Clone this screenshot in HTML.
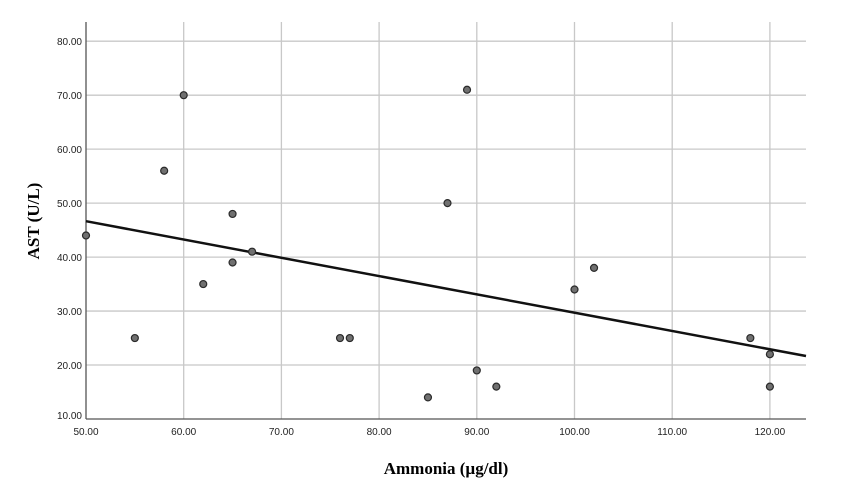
<!DOCTYPE html>
<html><head><meta charset="utf-8"><style>
body{margin:0;background:#fff;}
svg text{font-family:"Liberation Sans",Arial,sans-serif;}
</style></head><body>
<svg id="chart" width="842" height="494" xmlns="http://www.w3.org/2000/svg">
<g id="grid"></g><g id="axes"></g><g id="pts"></g>
<text transform="translate(39,221) rotate(-90)" text-anchor="middle" font-family="Liberation Serif" font-weight="bold" font-size="17" style="font-family:'Liberation Serif',serif">AST (U/L)</text>
<text x="446" y="474" text-anchor="middle" font-weight="bold" font-size="17" style="font-family:'Liberation Serif',serif">Ammonia (µg/dl)</text>
</svg>
<script>
const xTicks=[50,60,70,80,90,100,110,120];
const yTicks=[10,20,30,40,50,60,70,80];
const ammonia=[50,55,58,60,62,65,65,67,76,77,85,87,89,90,92,100,102,118,120,120];
const ast=[44,25,56,70,35,48,39,41,25,25,14,50,71,19,16,34,38,25,22,16];
const fitIntercept=[63.6];
const fitSlope=[-0.339];
const X0=86,X1=806,Y0=419,Ytop=22;
const xs=v=>86+(v-50)*9.77;
const ys=v=>419-(v-10)*5.397;
const NS="http://www.w3.org/2000/svg";
function mk(p,t,a){const e=document.createElementNS(NS,t);for(const k in a)e.setAttribute(k,a[k]);p.appendChild(e);return e;}
const g=document.getElementById('grid'),ax=document.getElementById('axes'),pts=document.getElementById('pts');
xTicks.forEach(v=>{if(v>50){const l=mk(g,'line',{x1:xs(v),x2:xs(v),y1:Ytop,y2:Y0,stroke:'#c8c8c8','stroke-width':1.3});

}
const t=mk(ax,'text',{x:xs(v),y:Y0+16,'text-anchor':'middle','font-size':10,fill:'#222'});t.textContent=v.toFixed(2);

});
yTicks.forEach(v=>{if(v>10){const l=mk(g,'line',{x1:X0,x2:X1,y1:ys(v),y2:ys(v),stroke:'#c8c8c8','stroke-width':1.3});

}
const t=mk(ax,'text',{x:X0-4,y:ys(v)+(v==10?0:4),'text-anchor':'end','font-size':10,fill:'#222'});t.textContent=v.toFixed(2);

});
const ya=mk(ax,'line',{x1:X0,x2:X0,y1:Ytop,y2:Y0,stroke:'#555','stroke-width':1.3});


const xa=mk(ax,'line',{x1:X0,x2:X1,y1:Y0,y2:Y0,stroke:'#555','stroke-width':1.3});


const xmax=50+(X1-X0)/9.77;
const fl=mk(pts,'line',{x1:xs(50),y1:ys(fitIntercept[0]+fitSlope[0]*50),x2:X1,y2:ys(fitIntercept[0]+fitSlope[0]*xmax),stroke:'#111','stroke-width':2.5});


ammonia.forEach((v,i)=>{const c=mk(pts,'circle',{cx:xs(v),cy:ys(ast[i]),r:3.5,fill:'#707070',stroke:'#2a2a2a','stroke-width':1.2});

});
</script>
</body></html>
